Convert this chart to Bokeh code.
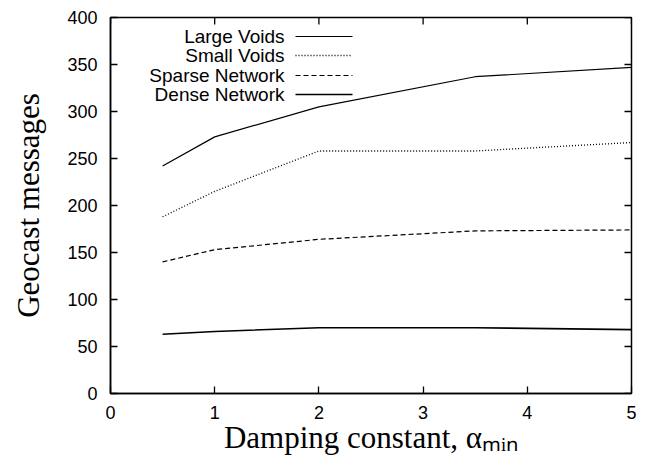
import math
from bokeh.plotting import figure
from bokeh.models import Range1d, FixedTicker, Label, Arrow
from bokeh.embed import file_html
from bokeh.resources import INLINE

# ---- data ----
alpha_min = [0.5, 1, 2, 3.5, 5]
large_voids = [242, 273, 305, 337, 347]
small_voids = [188, 215, 258, 258, 267]
sparse_network = [140, 153, 164, 173, 174]
dense_network = [63, 66, 70, 70, 68]

series_names = ["Large Voids", "Small Voids", "Sparse Network", "Dense Network"]
x_ticks = [0, 1, 2, 3, 4, 5]
y_ticks = [0, 50, 100, 150, 200, 250, 300, 350, 400]
X_MIN, X_MAX = 0, 5
Y_MIN, Y_MAX = 0, 400

W, H = 644, 457
SANS = "Liberation Sans"
SERIF = "Liberation Serif"

p = figure(width=W, height=H, output_backend="svg", toolbar_location=None,
           x_range=Range1d(X_MIN, X_MAX), y_range=Range1d(Y_MIN, Y_MAX),
           min_border_left=110, min_border_right=13,
           min_border_top=17, min_border_bottom=64)
p.background_fill_color = "white"
p.border_fill_color = "white"
p.outline_line_color = "black"
p.outline_line_width = 1.5
p.xgrid.visible = False
p.ygrid.visible = False

for ax in (p.xaxis[0], p.yaxis[0]):
    ax.axis_line_color = "black"
    ax.axis_line_width = 1.5
    ax.major_tick_in = 7
    ax.major_tick_out = 0
    ax.major_tick_line_color = "black"
    ax.major_tick_line_width = 1.3
    ax.minor_tick_line_color = None
    ax.major_label_text_font = SANS
    ax.major_label_text_font_size = "18px"
    ax.major_label_text_color = "black"
    ax.axis_label_text_font = SERIF
    ax.axis_label_text_font_size = "31px"
    ax.axis_label_text_font_style = "normal"
    ax.axis_label_text_color = "black"

p.xaxis[0].ticker = FixedTicker(ticks=x_ticks)
p.yaxis[0].ticker = FixedTicker(ticks=y_ticks)
p.xaxis[0].major_label_standoff = 12
p.yaxis[0].major_label_standoff = 13

p.yaxis[0].axis_label = "Geocast messages"
p.yaxis[0].axis_label_standoff = 18
p.xaxis[0].axis_label = "Damping constant, αₘᵢₙ"
p.xaxis[0].axis_label_standoff = -2

# mirror (inward) ticks on top and right edges, clipped to the frame
p.scatter(x_ticks, [Y_MAX] * len(x_ticks), marker="dash", size=14,
          angle=math.pi / 2, line_color="black", line_width=1.3)
p.scatter([X_MAX] * len(y_ticks), y_ticks, marker="dash", size=14,
          line_color="black", line_width=1.3)

# ---- lines ----
styles = [
    (large_voids, "solid", 1.2),
    (small_voids, "1 2", 1.3),
    (sparse_network, "5 3", 1.2),
    (dense_network, "solid", 1.6),
]
for ys, dash, lw in styles:
    p.line(alpha_min, ys, line_color="black", line_width=lw, line_dash=dash)

# ---- legend (text right-aligned, sample on the right); frame-relative px ----
row_y = [357, 338, 318, 299]
for name, (ys, dash, lw), ry in zip(series_names, styles, row_y):
    p.add_layout(Label(x=174, y=ry, x_units="screen", y_units="screen",
                       text=name, text_align="right", text_baseline="middle",
                       text_font=SANS, text_font_size="19px", text_color="black"))
    p.add_layout(Arrow(end=None, x_start=185, y_start=ry, x_end=242, y_end=ry,
                       start_units="screen", end_units="screen",
                       line_color="black", line_width=lw, line_dash=dash))

open("out.html", "w").write(file_html(p, INLINE))
